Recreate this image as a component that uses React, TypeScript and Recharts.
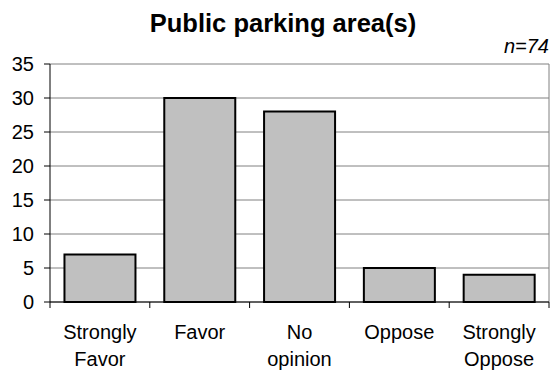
import { Bar, BarChart, CartesianGrid, ReferenceLine, XAxis, YAxis } from 'recharts'

const categories = ['Strongly Favor', 'Favor', 'No opinion', 'Oppose', 'Strongly Oppose']
const counts = [7, 30, 28, 5, 4]
const yTicks = [0, 5, 10, 15, 20, 25, 30, 35]

const data = categories.map((name, i) => ({ name, count: counts[i] }))

const FONT = "'Liberation Sans', Arial, sans-serif"

type TickProps = {
  x?: number
  y?: number
  width?: number
  index?: number
  visibleTicksCount?: number
  payload?: { value: string }
}

// category label in two lines, plus tick marks on the band edges
function CategoryTick(props: TickProps) {
  const { x = 0, y = 0, width = 0, index = 0, visibleTicksCount = 1, payload } = props
  const half = width / visibleTicksCount / 2
  const words = String(payload?.value ?? '').split(' ')
  return (
    <g>
      <line x1={x - half} y1={y} x2={x - half} y2={y + 6} stroke="#000" />
      {index === visibleTicksCount - 1 && (
        <line x1={x + half} y1={y} x2={x + half} y2={y + 6} stroke="#000" />
      )}
      <text x={x} y={y} textAnchor="middle" fontFamily={FONT} fontSize={20} fill="#000">
        {words.map((w, i) => (
          <tspan key={i} x={x} y={y + 37 + i * 27}>
            {w}
          </tspan>
        ))}
      </text>
    </g>
  )
}

export default function App() {
  return (
    <div style={{ position: 'absolute', left: 0, top: 0, width: 551, height: 376, background: '#fff' }}>
      <div
        style={{
          position: 'absolute',
          left: 0,
          top: 10,
          width: 566,
          textAlign: 'center',
          fontFamily: FONT,
          fontWeight: 'bold',
          fontSize: 25.5,
          lineHeight: '26px',
        }}
      >
        Public parking area(s)
      </div>
      <div
        style={{
          position: 'absolute',
          right: 2,
          top: 36,
          fontFamily: FONT,
          fontStyle: 'italic',
          fontSize: 20,
          lineHeight: '20px',
        }}
      >
        n=74
      </div>
      <BarChart
        width={551}
        height={376}
        data={data}
        margin={{ top: 64, right: 2, bottom: 0, left: 0 }}
        barCategoryGap="14.5%"
      >
        <CartesianGrid vertical={false} stroke="#808080" />
        <XAxis
          dataKey="name"
          interval={0}
          height={74}
          tickSize={0}
          tickMargin={0}
          tickLine={false}
          axisLine={{ stroke: '#000' }}
          tick={<CategoryTick />}
        />
        <YAxis
          domain={[0, 35]}
          ticks={yTicks}
          interval={0}
          width={50}
          tickSize={6}
          tickMargin={10}
          axisLine={{ stroke: '#000' }}
          tickLine={{ stroke: '#000' }}
          tick={{ fill: '#000', fontSize: 20, fontFamily: FONT }}
        />
        <ReferenceLine x="Strongly Oppose" position="end" stroke="#808080" />
        <Bar
          dataKey="count"
          fill="#C0C0C0"
          stroke="#000"
          strokeWidth={2}
          isAnimationActive={false}
        />
      </BarChart>
    </div>
  )
}
